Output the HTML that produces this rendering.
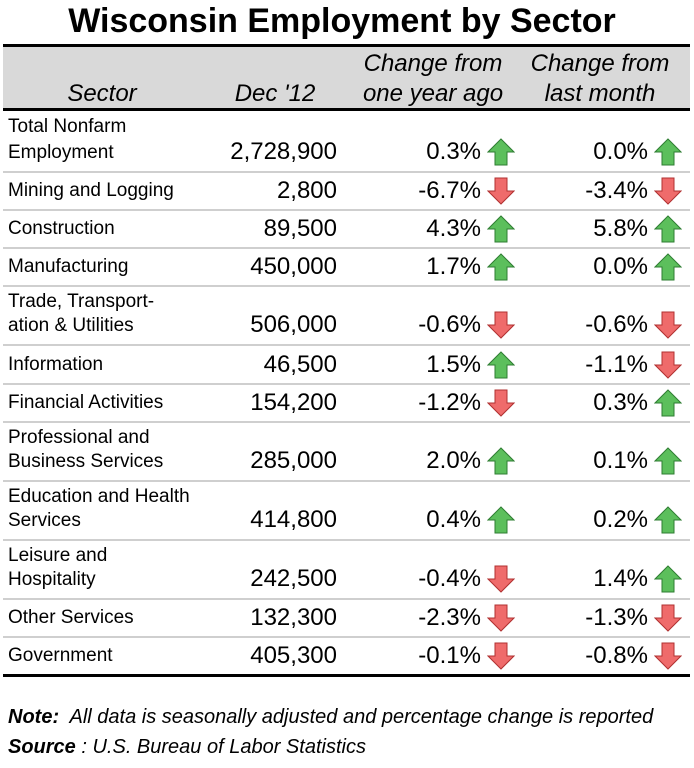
<!DOCTYPE html>
<html><head><meta charset="utf-8"><style>
body{margin:0;width:694px;height:768px;background:#fff;position:relative;font-family:"Liberation Sans",Arial,sans-serif;color:#000;overflow:hidden}
.a{position:absolute;white-space:nowrap;line-height:1}
.t{font-weight:bold;font-size:34px;left:0;width:684px;text-align:center;top:4px}
.h{font-style:italic;font-size:24px;text-align:center}
.s{font-size:19px;left:8px}
.n{font-size:24px;text-align:right}
.ln{position:absolute;left:3px;width:687px}
</style></head><body>
<div class="a t">Wisconsin Employment by Sector</div>
<div class="ln" style="top:44px;height:3px;background:#000"></div>
<div class="ln" style="top:47px;height:61px;background:#d9d9d9"></div>
<div class="ln" style="top:108px;height:3px;background:#000"></div>
<div class="a h" style="left:2px;width:200px;top:82px">Sector</div>
<div class="a h" style="left:205px;width:140px;top:82px">Dec '12</div>
<div class="a h" style="left:350px;width:166px;top:52px">Change from</div>
<div class="a h" style="left:350px;width:166px;top:82px">one year ago</div>
<div class="a h" style="left:517px;width:166px;top:52px">Change from</div>
<div class="a h" style="left:517px;width:166px;top:82px">last month</div>
<div id="rows"></div>
<div class="ln" style="top:674px;height:3px;background:#000"></div>
<div class="a" style="left:8px;top:707px;font-size:20px;font-style:italic"><b>Note:</b>&nbsp; All data is seasonally adjusted and percentage change is reported</div>
<div class="a" style="left:8px;top:737px;font-size:20px;font-style:italic"><b>Source</b> : U.S. Bureau of Labor Statistics</div>
<script>
var up='<svg width="28" height="28" viewBox="0 0 28 28"><polygon points="14,1 27,14 20,14 20,27 8,27 8,14 1,14" fill="#5cbf5c" stroke="#2e7d32" stroke-width="1"/></svg>';
var dn='<svg width="28" height="28" viewBox="0 0 28 28"><polygon points="14,27 27,14 20,14 20,1 8,1 8,14 1,14" fill="#ef6b6b" stroke="#b03030" stroke-width="1"/></svg>';
var R=[
[["Total Nonfarm","Employment"],"2,728,900","0.3%",1,"0.0%",1,111,172],
[["Mining and Logging"],"2,800","-6.7%",0,"-3.4%",0,172,210],
[["Construction"],"89,500","4.3%",1,"5.8%",1,210,248],
[["Manufacturing"],"450,000","1.7%",1,"0.0%",1,248,286],
[["Trade, Transport-","ation &amp; Utilities"],"506,000","-0.6%",0,"-0.6%",0,286,345],
[["Information"],"46,500","1.5%",1,"-1.1%",0,345,384],
[["Financial Activities"],"154,200","-1.2%",0,"0.3%",1,384,422],
[["Professional and","Business Services"],"285,000","2.0%",1,"0.1%",1,422,481],
[["Education and Health","Services"],"414,800","0.4%",1,"0.2%",1,481,540],
[["Leisure and","Hospitality"],"242,500","-0.4%",0,"1.4%",1,540,599],
[["Other Services"],"132,300","-2.3%",0,"-1.3%",0,599,637],
[["Government"],"405,300","-0.1%",0,"-0.8%",0,637,675]];
var h='';
R.forEach(function(r,i){
 var t=r[6],b=r[7],c;
 if(r[0].length==2){h+='<div class="a s" style="top:'+(t+6)+'px">'+r[0][0]+'</div><div class="a s" style="top:'+(b-29)+'px">'+r[0][1]+'</div>';c=b-20;}
 else{h+='<div class="a s" style="top:'+((t+b)/2-10)+'px">'+r[0][0]+'</div>';c=(t+b)/2;}
 h+='<div class="a n" style="left:180px;width:157px;top:'+(c-12)+'px">'+r[1]+'</div>';
 h+='<div class="a n" style="left:380px;width:101px;top:'+(c-12)+'px">'+r[2]+'</div>';
 h+='<div class="a" style="left:487px;top:'+(c-14)+'px">'+(r[3]?up:dn)+'</div>';
 h+='<div class="a n" style="left:547px;width:101px;top:'+(c-12)+'px">'+r[4]+'</div>';
 h+='<div class="a" style="left:654px;top:'+(c-14)+'px">'+(r[5]?up:dn)+'</div>';
 if(i<R.length-1)h+='<div class="ln" style="top:'+(b-1)+'px;height:2px;background:#cfcfcf"></div>';
});
document.getElementById('rows').innerHTML=h;
</script>
</body></html>
